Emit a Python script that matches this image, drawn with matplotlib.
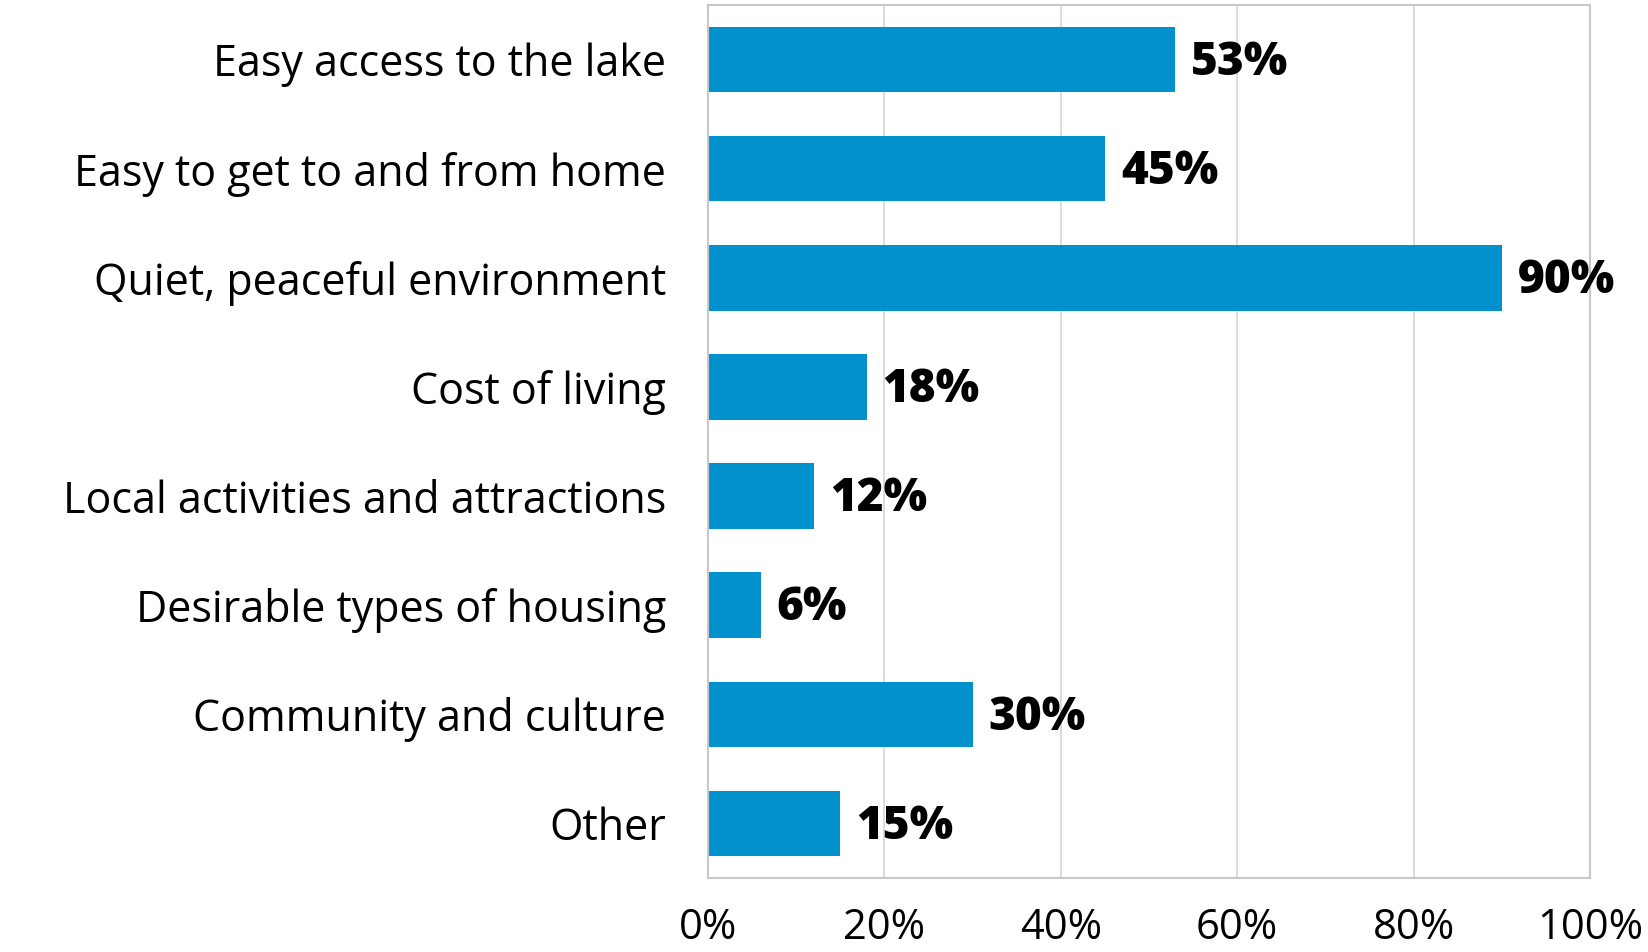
import matplotlib.pyplot as plt
from matplotlib.ticker import FuncFormatter

# survey answers, top to bottom
categories = ['Easy access to the lake', 'Easy to get to and from home',
              'Quiet, peaceful environment', 'Cost of living',
              'Local activities and attractions', 'Desirable types of housing',
              'Community and culture', 'Other']
shares = [53, 45, 90, 18, 12, 6, 30, 15]
xticks = [0, 20, 40, 60, 80, 100]

bar_color = '#0291CD'
font = 'Open Sans'

fig = plt.figure(figsize=(16.49, 9.52), dpi=100)
ax = fig.add_axes([708 / 1649, 74 / 952, 882 / 1649, 873 / 952])

ypos = list(range(len(categories)))
ax.barh(ypos, shares, height=0.6, color=bar_color, zorder=2)
ax.set_ylim(len(categories) - 0.5, -0.5)
ax.set_xlim(0, 100)

for y, v in zip(ypos, shares):
    ax.text(v + 1.8, y + 0.03, f'{v}%', va='center', ha='left',
            fontsize=33, fontweight='heavy', family=font, color='black')

ax.set_yticks(ypos)
ax.set_yticklabels(categories, family=font, fontsize=31)
ax.set_xticks(xticks)
ax.xaxis.set_major_formatter(FuncFormatter(lambda x, _: f'{x:.0f}%'))
for lab in ax.get_xticklabels():
    lab.set_family(font)
    lab.set_fontsize(30)

ax.tick_params(axis='y', length=0, pad=30)
ax.tick_params(axis='x', length=0, pad=21)
ax.grid(axis='x', color='#D9D9D9', linewidth=1.3, zorder=0)
for s in ax.spines.values():
    s.set_color('#C8C8C8')
    s.set_linewidth(1.5)

fig.savefig('out.png', dpi=100)
